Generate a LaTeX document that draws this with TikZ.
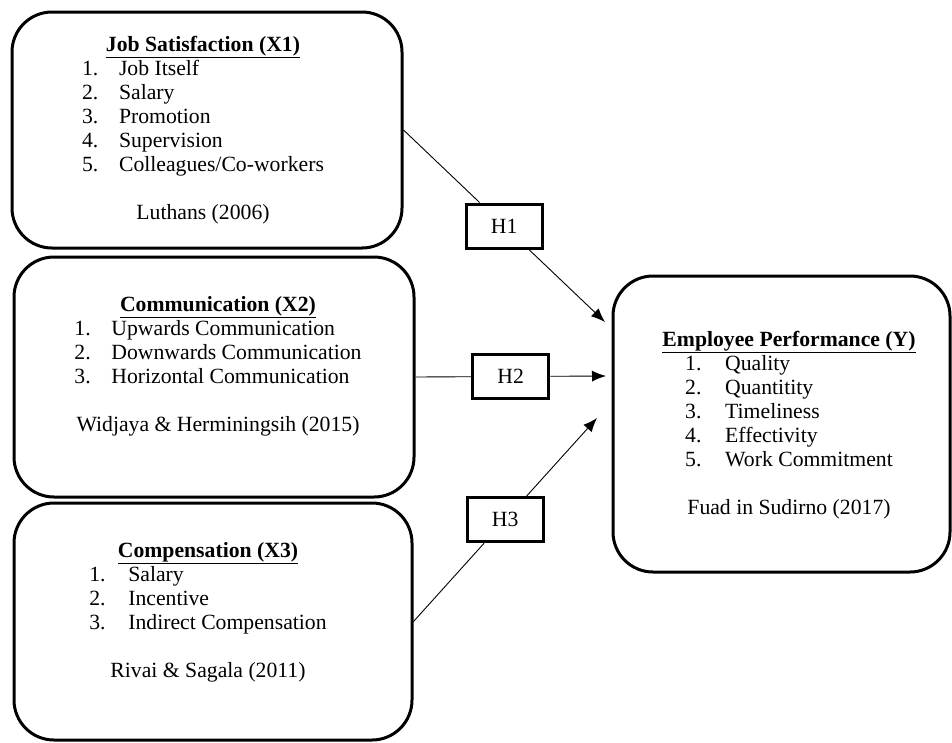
\documentclass[tikz,border=0pt]{standalone}
\usepackage{fontspec}
\setmainfont{Liberation Serif}
\usepackage{tikz}
\usetikzlibrary{arrows.meta}

\begin{document}
\begin{tikzpicture}[x=1pt, y=-1pt,
  every node/.style = {font=\fontsize{21.7}{24}\selectfont},
  factor/.style = {draw, line width=3pt, rounded corners=40pt},
  hyp/.style = {draw, line width=3pt, fill=white, inner sep=0pt,
    minimum width=76pt, minimum height=44pt},
  link/.style = {line width=0.9pt},
  arrowlink/.style = {line width=0.9pt, -{Latex[length=14pt,width=11pt]}}
  ]
  \useasboundingbox (0,0) rectangle (952,742);

  % boxes
  \node[factor, minimum width=390pt, minimum height=236pt] (x1) at (207,130) {};
  \node[factor, minimum width=400pt, minimum height=240pt] (x2) at (214,377) {};
  \node[factor, minimum width=398pt, minimum height=237pt] (x3) at (213,621.5) {};
  \node[factor, minimum width=337pt, minimum height=296pt] (y) at (781.5,424) {};

  % texts
  \node[align=center] (x1txt) at (203,130) {\underline{\textbf{Job Satisfaction (X1)}}\\
    \begin{tabular}{@{}l@{}l@{}}
      \makebox[37pt][l]{1.} & Job Itself\\
      \makebox[37pt][l]{2.} & Salary\\
      \makebox[37pt][l]{3.} & Promotion\\
      \makebox[37pt][l]{4.} & Supervision\\
      \makebox[37pt][l]{5.} & Colleagues/Co-workers
    \end{tabular}\\[24pt]
    Luthans (2006)};
  \node[align=center] (x2txt) at (218,366) {\underline{\textbf{Communication (X2)}}\\
    \begin{tabular}{@{}l@{}l@{}}
      \makebox[37pt][l]{1.} & Upwards Communication\\
      \makebox[37pt][l]{2.} & Downwards Communication\\
      \makebox[37pt][l]{3.} & Horizontal Communication
    \end{tabular}\\[24pt]
    Widjaya \& Herminingsih (2015)};
  \node[align=center] (x3txt) at (208,612) {\underline{\textbf{Compensation (X3)}}\\
    \begin{tabular}{@{}l@{}l@{}}
      \makebox[39pt][l]{1.} & Salary\\
      \makebox[39pt][l]{2.} & Incentive\\
      \makebox[39pt][l]{3.} & Indirect Compensation
    \end{tabular}\\[24pt]
    Rivai \& Sagala (2011)};
  \node[align=center] (ytxt) at (789,425) {\underline{\textbf{Employee Performance (Y)}}\\
    \begin{tabular}{@{}l@{}l@{}}
      \makebox[40pt][l]{1.} & Quality\\
      \makebox[40pt][l]{2.} & Quantitity\\
      \makebox[40pt][l]{3.} & Timeliness\\
      \makebox[40pt][l]{4.} & Effectivity\\
      \makebox[40pt][l]{5.} & Work Commitment
    \end{tabular}\\[24pt]
    Fuad in Sudirno (2017)};

  % arrow ends
  \coordinate (t1) at (605,322);
  \coordinate (t2) at (606,376);
  \coordinate (t3) at (597,418);

  % hypotheses
  \path (x1.east) -- node[hyp, pos=.5] (h1) {H1} (t1);
  \path (x2.east) -- node[hyp, pos=.5] (h2) {H2} (t2);
  \path (x3.east) -- node[hyp, pos=.5] (h3) {H3} (t3);

  \draw[link] (x1.east) -- (h1);
  \draw[arrowlink] (h1) -- (t1);
  \draw[link] (x2.east) -- (h2);
  \draw[arrowlink] (h2) -- (t2);
  \draw[link] (x3.east) -- (h3);
  \draw[arrowlink] (h3) -- (t3);
\end{tikzpicture}
\end{document}
